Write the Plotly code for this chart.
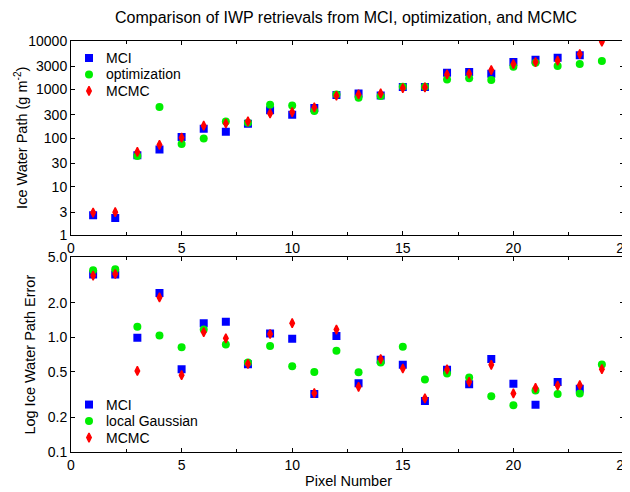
import plotly.graph_objects as go

pixels = list(range(1, 25))

iwp_mci = [2.58, 2.28, 44.6, 58, 106, 156, 135, 198, 377, 303, 416, 771,
           834, 758, 1127, 1127, 2223, 2296, 2120, 3690, 4121, 4530, 5060, None]
iwp_opt = [None, None, 43, 436, 76, 98, 221, 207, 487, 472, 361, 794,
           679, 735, 1144, 1144, 1620, 1700, 1570, 2958, 3573, 3053, 3357, 3870]
iwp_mcmc = [2.93, 2.98, 52, 73, 102, 180, 200, 221, 323, 344, 429, 746,
            794, 834, 1074, 1110, 2054, 2120, 2524, 3357, 3690, 3934, 5395, 9690]

err_mci = [3.53, 3.53, 0.99, 2.44, 0.528, 1.33, 1.37, 0.584, 1.08, 0.973, 0.321, 1.03,
           0.398, 0.637, 0.576, 0.279, 0.521, 0.390, 0.646, 0.393, 0.258, 0.409, 0.356, None]
err_lg = [3.85, 3.93, 1.24, 1.04, 0.822, 1.17, 0.867, 0.604, 0.839, 0.561, 0.50, 0.764,
          0.497, 0.604, 0.828, 0.429, 0.484, 0.447, 0.307, 0.256, 0.344, 0.321, 0.324, 0.580]
err_mcmc = [3.46, 3.57, 0.51, 2.23, 0.468, 1.11, 0.98, 0.588, 1.07, 1.33, 0.326, 1.17,
            0.370, 0.646, 0.535, 0.294, 0.525, 0.409, 0.576, 0.324, 0.362, 0.380, 0.383, 0.528]

top_ticks = [1, 3, 10, 30, 100, 300, 1000, 3000, 10000]
bot_ticks = [0.1, 0.2, 0.5, 1.0, 2.0, 5.0]
bot_ticktext = ["0.1", "0.2", "0.5", "1.0", "2.0", "5.0"]

top_legend_names = ["MCI", "optimization", "MCMC"]
bot_legend_names = ["MCI", "local Gaussian", "MCMC"]

# ---- layout geometry (window pixels; the page body has an 8px margin) ----
OFF = 8
WIN_W, WIN_H = 630, 492
W, H = WIN_W - OFF, WIN_H - OFF
PL, PR, PT, PB = 71, 624, 41, 452.5          # plot box in window pixels
L, R, T, B = PL - OFF, WIN_W - PR, PT - OFF, WIN_H - PB
PW, PH = W - L - R, H - T - B

def px_x(p):
    return (p - OFF - L) / PW

def px_y(p):
    return (H - B - (p - OFF)) / PH

FONT = "Liberation Sans, Arial, sans-serif"
BLUE = "#0000ff"
GREEN = "#00ee00"
RED = "#ff0000"
STYLES = [
    dict(color=BLUE, symbol="square", size=8, line=dict(width=0)),
    dict(color=GREEN, symbol="circle", size=8, line=dict(width=0)),
    dict(color=RED, symbol="diamond-tall", size=6.5, line=dict(width=1.4, color=RED)),
]

fig = go.Figure()

for ys, name, st in zip([iwp_mci, iwp_opt, iwp_mcmc], top_legend_names, STYLES):
    fig.add_trace(go.Scatter(x=pixels, y=ys, name=name, mode="markers",
                             marker=st, xaxis="x", yaxis="y", showlegend=False))
for ys, name, st in zip([err_mci, err_lg, err_mcmc], bot_legend_names, STYLES):
    fig.add_trace(go.Scatter(x=pixels, y=ys, name=name, mode="markers",
                             marker=st, xaxis="x2", yaxis="y2", showlegend=False))

# ---- manual legends (compact spacing like the reference) ----
LEG_MARK_X, LEG_TEXT_X = 89, 104
top_rows = [58, 74.5, 91]
bot_rows = [405, 421.5, 438]
annotations = []
for rows, names in [(top_rows, top_legend_names), (bot_rows, bot_legend_names)]:
    for r, name, st in zip(rows, names, STYLES):
        fig.add_trace(go.Scatter(x=[px_x(LEG_MARK_X)], y=[px_y(r)], mode="markers",
                                 marker=st, xaxis="x3", yaxis="y3",
                                 showlegend=False, hoverinfo="skip"))
        annotations.append(dict(text=name, x=px_x(LEG_TEXT_X), y=px_y(r),
                                xref="paper", yref="paper", xanchor="left",
                                yanchor="middle", showarrow=False,
                                font=dict(size=14, family=FONT, color="black")))

# axis titles and chart title
annotations += [
    dict(text="Ice Water Path (g m<sup>-2</sup>)", x=px_x(21), y=px_y(138),
         xref="paper", yref="paper", textangle=-90, showarrow=False,
         xanchor="center", yanchor="middle", font=dict(size=14.5, family=FONT)),
    dict(text="Log Ice Water Path Error", x=px_x(30), y=px_y(355),
         xref="paper", yref="paper", textangle=-90, showarrow=False,
         xanchor="center", yanchor="middle", font=dict(size=14.5, family=FONT)),
    dict(text="Pixel Number", x=px_x(348), y=px_y(482),
         xref="paper", yref="paper", showarrow=False,
         xanchor="center", yanchor="middle", font=dict(size=14.5, family=FONT)),
    dict(text="Comparison of IWP retrievals from MCI, optimization, and MCMC",
         x=px_x(346), y=px_y(17), xref="paper", yref="paper", showarrow=False,
         xanchor="center", yanchor="middle", font=dict(size=16, family=FONT)),
]

axis_common = dict(showline=True, linecolor="black", linewidth=1, mirror="allticks",
                   ticks="inside", ticklen=4, tickcolor="black", showgrid=False,
                   zeroline=False, automargin=False,
                   tickfont=dict(size=14, color="black", family=FONT))

xcommon = dict(axis_common, range=[0, 25], tickvals=[0, 5, 10, 15, 20, 25],
               ticklabeloverflow="allow",
               minor=dict(tickvals=[2.5, 7.5, 12.5, 17.5, 22.5], ticks="inside",
                          ticklen=3, tickcolor="black", showgrid=False))

top_bottom = px_y(235.5)
bot_top = px_y(257.5)

fig.update_layout(
    width=W, height=H,
    paper_bgcolor="white", plot_bgcolor="rgba(0,0,0,0)",
    font=dict(family=FONT, color="black", size=14),
    margin=dict(l=L, r=R, t=T, b=B, pad=0),
    showlegend=False,
    xaxis=dict(xcommon, domain=[0, 1], anchor="y"),
    yaxis=dict(axis_common, type="log", domain=[top_bottom, 1], anchor="x",
               range=[0, 4], tickvals=top_ticks,
               ticktext=[str(t) for t in top_ticks]),
    xaxis2=dict(xcommon, domain=[0, 1], anchor="y2"),
    yaxis2=dict(axis_common, type="log", domain=[0, bot_top], anchor="x2",
                range=[-1, 0.69897], tickvals=bot_ticks, ticktext=bot_ticktext),
    xaxis3=dict(domain=[0, 1], range=[0, 1], visible=False, anchor="y3",
                fixedrange=True),
    yaxis3=dict(domain=[0, 1], range=[0, 1], visible=False, anchor="x3",
                fixedrange=True),
    annotations=annotations,
)

fig.write_html("out.html")
